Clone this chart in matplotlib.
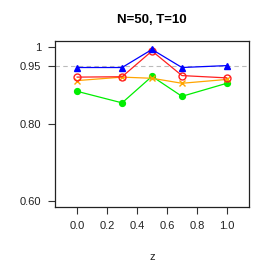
import matplotlib
matplotlib.use("Agg")
import matplotlib.pyplot as plt

z = [0.0, 0.3, 0.5, 0.7, 1.0]
blue_vals = [0.947, 0.947, 0.994, 0.947, 0.952]
red_vals = [0.922, 0.923, 0.990, 0.926, 0.920]
orange_vals = [0.913, 0.922, 0.919, 0.906, 0.916]
green_vals = [0.885, 0.855, 0.924, 0.872, 0.906]
xticks = [0.0, 0.2, 0.4, 0.6, 0.8, 1.0]
yticks = [0.60, 0.80, 0.95, 1.0]
ytick_labels = ["0.60", "0.80", "0.95", "1"]

plt.rcParams['font.family'] = ['Liberation Sans', 'DejaVu Sans']
fig = plt.figure(figsize=(2.77, 2.77), dpi=100)
ax = fig.add_axes([55/277, 70/277, 194/277, 166/277])

ax.axhline(0.95, color="#bbbbbb", lw=0.8, ls=(0, (4, 3)), zorder=1)

ax.plot(z, green_vals, color="#00ee00", lw=0.9, marker="o", ms=4.2, mfc="#00ee00", mec="#00ee00", zorder=2)
ax.plot(z, orange_vals, color="#ffa500", lw=0.9, marker="x", ms=4.5, mew=1.0, zorder=3)
ax.plot(z, red_vals, color="#ff2020", lw=0.9, marker="o", ms=5, mfc="none", mec="#ff2020", mew=1.0, zorder=4)
ax.plot(z, blue_vals, color="#0000ff", lw=0.9, marker="^", ms=5, mfc="#0000ff", mec="#0000ff", zorder=5)

ax.set_xlim(-0.148, 1.148)
ax.set_ylim(0.584, 1.016)
ax.set_xticks(xticks)
ax.set_xticklabels([f"{t:.1f}" for t in xticks])
ax.set_yticks(yticks)
ax.set_yticklabels(ytick_labels)
ax.tick_params(labelsize=8, length=5, width=0.8, pad=5, color="#333333", labelcolor="#222222")
for s in ax.spines.values():
    s.set_linewidth(0.9)
    s.set_color("#222222")

ax.set_xlabel("z", fontsize=8, labelpad=15, color="#222222")
fig.text(152/277, 1 - 20/277, "N=50, T=10", ha="center", va="center", fontsize=9.5, fontweight="bold")

fig.savefig("out.png", dpi=100)
